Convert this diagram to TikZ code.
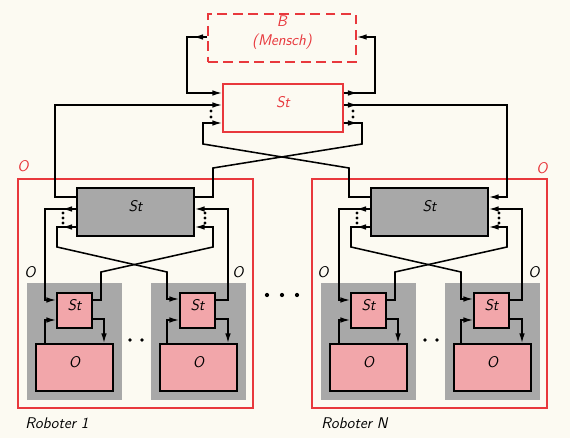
\documentclass[tikz,border=0pt]{standalone}
\usepackage{tikz}
\usetikzlibrary{arrows.meta,fit,decorations.markings}
\definecolor{paper}{HTML}{FCFAF2}
\definecolor{printred}{HTML}{E8383D}
\definecolor{pinkfill}{HTML}{F2A6AA}
\definecolor{screen}{HTML}{A8A8A8}

\begin{document}
\begin{tikzpicture}[x=0.025cm, y=-0.025cm, line width=1.1pt,
    every node/.style={font=\sffamily\itshape\fontsize{11}{13}\selectfont},
    redframe/.style={draw=printred, inner sep=0pt},
    greyst/.style={draw=black, fill=screen, inner sep=0pt},
    pinkbox/.style={draw=black, fill=pinkfill, inner sep=0pt},
    unitbg/.style={fill=screen, inner sep=0pt},
    inarr/.style={-{Latex[length=7pt,width=4pt]}},
    outarr/.style={decoration={markings, mark=at position 10pt with
        {\arrow{Latex[length=7pt,width=4pt]}}}, postaction={decorate}}]
    \fill[paper] (0,0) rectangle (570,438);
    \useasboundingbox (0,0) rectangle (570,438);

    % human and top control
    \node[redframe, dashed, dash pattern=on 7pt off 4pt, text=printred, align=center,
          fit={(208,14)(356,62)}] (bm) {B\\(Mensch)};
    \node[redframe, fill=paper, text=printred, fit={(223,84)(343,132)}] (sttop) {St};

    % robot frames and screened unit areas
    \node[redframe, fit={(18,179)(253,408)}] (rob1) {};
    \node[redframe, fit={(312,179)(547,408)}] (robN) {};
    \node[unitbg, fit={(27,283)(122,400)}] (bg1a) {};
    \node[unitbg, fit={(151,283)(246,400)}] (bg1b) {};
    \node[unitbg, fit={(321,283)(416,400)}] (bgNa) {};
    \node[unitbg, fit={(445,283)(540,400)}] (bgNb) {};

    % robot controls
    \node[greyst, fit={(77,188)(194,236)}] (strob1) {St};
    \node[greyst, fit={(371,188)(488,236)}] (strobN) {St};
    \node[pinkbox, fit={(57,293)(92,328)}] (st1a) {St};
    \node[pinkbox, fit={(180,293)(215,328)}] (st1b) {St};
    \node[pinkbox, fit={(351,293)(386,328)}] (stNa) {St};
    \node[pinkbox, fit={(474,293)(509,328)}] (stNb) {St};
    \node[pinkbox, fit={(36,344)(113,391)}] (obj1a) {O};
    \node[pinkbox, fit={(160,344)(237,391)}] (obj1b) {O};
    \node[pinkbox, fit={(330,344)(407,391)}] (objNa) {O};
    \node[pinkbox, fit={(454,344)(531,391)}] (objNb) {O};

    % top level
    \draw[inarr, outarr] (bm.west |- 0,37) -| (187,93) -- (sttop.west |- 0,93);
    \draw[inarr, outarr] (sttop.east |- 0,93) -| (375,37) -- (bm.east |- 0,37);
    \draw[inarr] (strob1.west |- 0,197) -| (55,105) -- (sttop.west |- 0,105);
    \draw[inarr] (strobN.west |- 0,197) -| (349,168) -- (203,144) -- (203,123)
        -- (sttop.west |- 0,123);
    \draw[inarr, outarr] (sttop.east |- 0,105) -| (507,197) -- (strobN.east |- 0,197);
    \draw[outarr] (sttop.east |- 0,123) -- (362,123) -- (362,144) -- (213,168)
        -- (213,197) -- (strob1.east |- 0,197);

    % robot 1
    \draw[inarr, outarr] (strob1.west |- 0,209) -| (45,300) -- (st1a.west |- 0,300);
    \draw[inarr, outarr] (strob1.west |- 0,227) -- (57,227) -- (57,247) -- (167,272)
        -- (167,299) -- (st1b.west |- 0,299);
    \draw[inarr] (st1b.east |- 0,300) -| (228,209) -- (strob1.east |- 0,209);
    \draw[inarr] (st1a.east |- 0,300) -- (101,300) -- (101,272) -- (213,247)
        -- (213,227) -- (strob1.east |- 0,227);
    \draw[inarr] (st1a.east |- 0,319) -| (obj1a.north -| 104,0);
    \draw[inarr] (obj1a.north -| 45,0) |- (st1a.west |- 0,320);
    \draw[inarr] (st1b.east |- 0,319) -| (obj1b.north -| 228,0);
    \draw[inarr] (obj1b.north -| 167,0) |- (st1b.west |- 0,320);

    % robot N
    \draw[inarr, outarr] (strobN.west |- 0,209) -| (339,300) -- (stNa.west |- 0,300);
    \draw[inarr, outarr] (strobN.west |- 0,227) -- (351,227) -- (351,247) -- (461,272)
        -- (461,299) -- (stNb.west |- 0,299);
    \draw[inarr] (stNb.east |- 0,300) -| (522,209) -- (strobN.east |- 0,209);
    \draw[inarr] (stNa.east |- 0,300) -- (395,300) -- (395,272) -- (507,247)
        -- (507,227) -- (strobN.east |- 0,227);
    \draw[inarr] (stNa.east |- 0,319) -| (objNa.north -| 398,0);
    \draw[inarr] (objNa.north -| 339,0) |- (stNa.west |- 0,320);
    \draw[inarr] (stNb.east |- 0,319) -| (objNb.north -| 522,0);
    \draw[inarr] (objNb.north -| 461,0) |- (stNb.west |- 0,320);

    % dots for further lines and units
    \fill (211,111) circle (1.1pt) (211,117) circle (1.1pt);
    \fill (353,111) circle (1.1pt) (353,117) circle (1.1pt);
    \fill (63,213) circle (1.1pt) (63,218) circle (1.1pt) (63,223) circle (1.1pt);
    \fill (205,213) circle (1.1pt) (205,218) circle (1.1pt) (205,223) circle (1.1pt);
    \fill (357,213) circle (1.1pt) (357,218) circle (1.1pt) (357,223) circle (1.1pt);
    \fill (499,213) circle (1.1pt) (499,218) circle (1.1pt) (499,223) circle (1.1pt);
    \fill (130,340) circle (1.3pt) (142,340) circle (1.3pt);
    \fill (425,340) circle (1.3pt) (437,340) circle (1.3pt);
    \fill (267,295) circle (1.5pt) (282,295) circle (1.5pt) (297,295) circle (1.5pt);

    % labels
    \node[text=printred] (lblrob1) at (23,166) {O};
    \node[text=printred] (lblrobN) at (542,168) {O};
    \node (lbl1a) at (30,272) {O};
    \node (lbl1b) at (238,272) {O};
    \node (lblNa) at (323,272) {O};
    \node (lblNb) at (534,272) {O};
    \node[anchor=west] (name1) at (20,423) {Roboter 1};
    \node[anchor=west] (nameN) at (316,423) {Roboter N};
  \end{tikzpicture}
\end{document}
